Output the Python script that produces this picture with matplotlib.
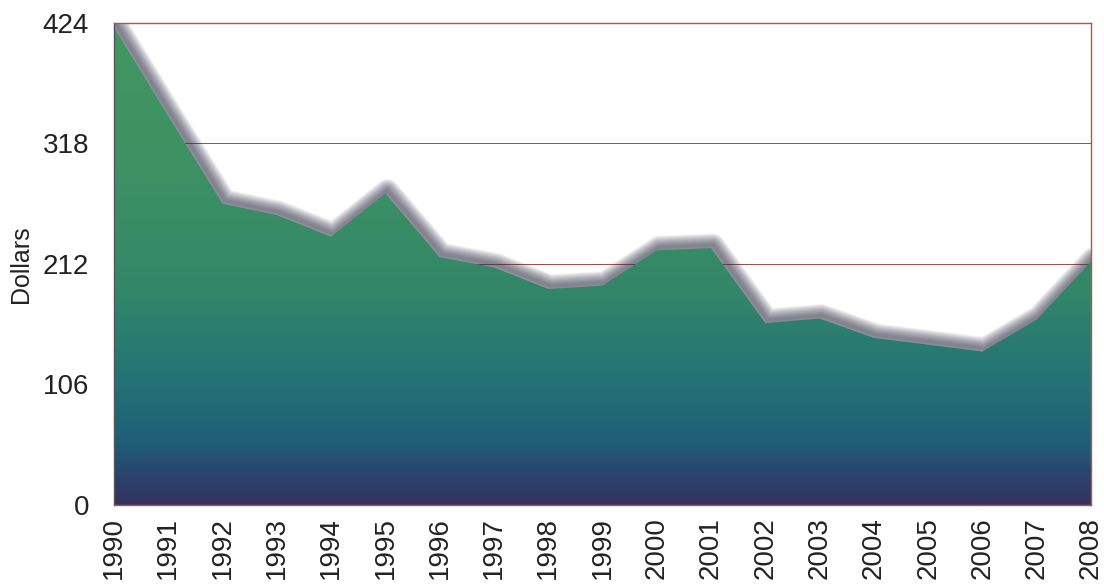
import numpy as np
import matplotlib
matplotlib.use("Agg")
import matplotlib.pyplot as plt
from matplotlib.colors import LinearSegmentedColormap
from matplotlib.patches import Polygon
import matplotlib.transforms as mtransforms

years = list(range(1990, 2009))
dollars = [420, 342, 265, 255, 236, 274, 218, 209, 190, 193, 224, 226,
           160, 164, 147, 141, 135, 163, 214]
y_ticks = [0, 106, 212, 318, 424]

plt.rcParams['font.family'] = ['Liberation Sans', 'DejaVu Sans']

fig = plt.figure(figsize=(11.04, 5.85), dpi=100)
ax = fig.add_axes([0.1033, 0.1368, 0.8849, 0.8239])

x = np.array(years, dtype=float)
y = np.array(dollars, dtype=float)
ax.set_xlim(x[0], x[-1])
ax.set_ylim(0, 424)

# grid lines
for t in y_ticks[1:]:
    ax.axhline(t, color='#a04848', lw=0.7, zorder=1)

# soft shadow along the top edge of the area
off = mtransforms.offset_copy(ax.transData, fig=fig, x=1.5, y=2.0, units='points')
for lw in np.linspace(17, 2, 16):
    ax.plot(x, y, color='#3a3850', lw=lw, alpha=0.055, solid_joinstyle='round',
            solid_capstyle='round', transform=off, zorder=2)

# vertical gradient fill clipped to the area polygon
cmap = LinearSegmentedColormap.from_list('area', [
    (0.00, (0.20, 0.20, 0.37)),
    (0.05, (0.17, 0.25, 0.42)),
    (0.13, (0.12, 0.37, 0.47)),
    (0.26, (0.14, 0.45, 0.46)),
    (0.45, (0.20, 0.53, 0.41)),
    (0.70, (0.24, 0.57, 0.39)),
    (1.00, (0.26, 0.59, 0.38)),
])
grad = np.linspace(0, 1, 256).reshape(-1, 1)
im = ax.imshow(grad, extent=[x[0], x[-1], 0, 424], origin='lower',
               aspect='auto', cmap=cmap, zorder=3)
poly = Polygon(np.column_stack([np.r_[x, x[-1], x[0]], np.r_[y, 0, 0]]),
               closed=True, facecolor='none', edgecolor='none',
               transform=ax.transData)
ax.add_patch(poly)
im.set_clip_path(poly)

for side in ['top', 'right', 'bottom']:
    ax.spines[side].set_color('#c0503a')
    ax.spines[side].set_linewidth(1.0)
ax.spines['left'].set_color('#555555')
ax.spines['left'].set_linewidth(1.0)
for s in ax.spines.values():
    s.set_zorder(5)

ax.set_yticks(y_ticks)
ax.set_yticklabels([str(t) for t in y_ticks])
ax.set_xticks(years)
ax.set_xticklabels([str(v) for v in years], rotation=90)
ax.tick_params(axis='both', length=0, labelsize=20, colors='#222222')
ax.tick_params(axis='y', pad=18)
ax.tick_params(axis='x', pad=9)
ax.set_ylabel('Dollars', fontsize=18, color='#222222')
ax.yaxis.set_label_coords(-0.083, 0.5)

fig.savefig('out.png', dpi=100)
